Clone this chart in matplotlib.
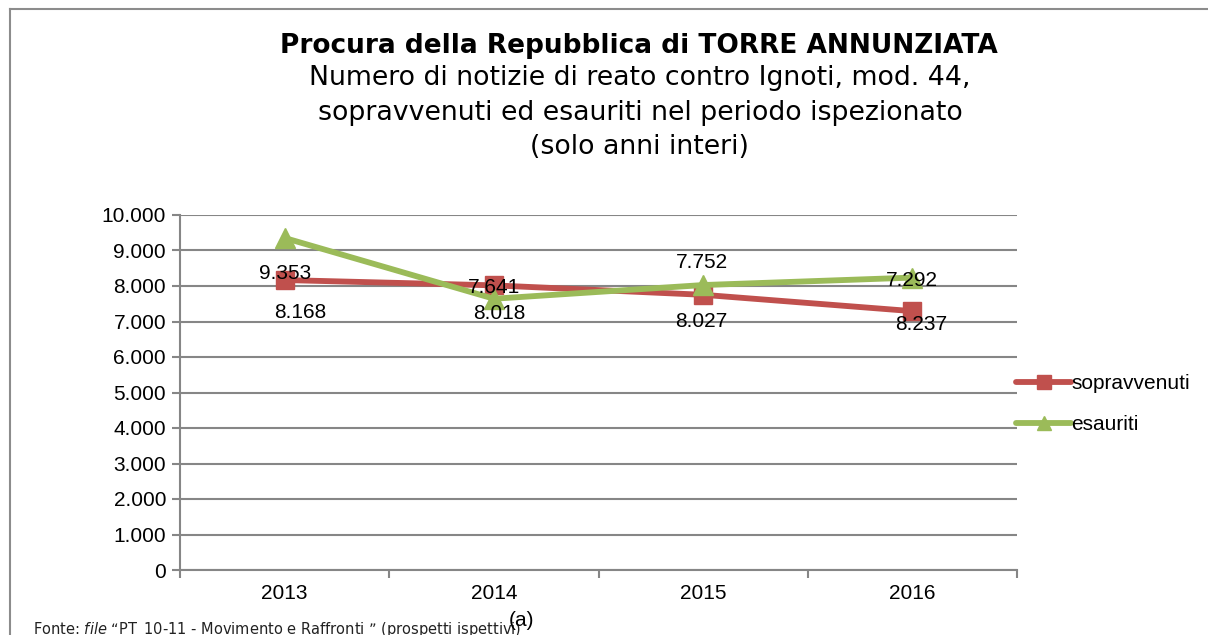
import matplotlib
matplotlib.use("Agg")
import matplotlib.pyplot as plt
from matplotlib.lines import Line2D

# ---- data ----
years = ["2013", "2014", "2015", "2016"]
sopravvenuti = [8168, 8018, 7752, 7292]
esauriti = [9353, 7641, 8027, 8237]
series_names = ["sopravvenuti", "esauriti"]
y_ticks = [0, 1000, 2000, 3000, 4000, 5000, 6000, 7000, 8000, 9000, 10000]

title = "Procura della Repubblica di TORRE ANNUNZIATA"
subtitle = "Numero di notizie di reato contro Ignoti, mod. 44,\nsopravvenuti ed esauriti nel periodo ispezionato\n(solo anni interi)"
source_note = "(prospetti ispettivi)"

# ---- style ----
W, H, DPI = 1208, 635, 100
RED = "#C0504D"
GREEN = "#9BBB59"
GRID = "#868686"
ARIAL = "Liberation Sans"
# label offsets in pixels (dx, dy downward)
red_off = [(16, 32), (5, 28), (-1, -32), (0, -31)]
green_off = [(0, 36), (0, -11), (-2, 36), (9, 47)]

def fmt(v):
    return f"{v:,}".replace(",", ".")

fig = plt.figure(figsize=(W / DPI, H / DPI), dpi=DPI)
L, R, T, B = 180, 1017, 215, 570
ax = fig.add_axes([L / W, 1 - B / H, (R - L) / W, (B - T) / H])

x = list(range(len(years)))
ax.plot(x, sopravvenuti, color=RED, lw=4.2, marker="s", ms=13,
        mec=RED, mfc=RED, label=series_names[0], zorder=3, solid_capstyle="round")
ax.plot(x, esauriti, color=GREEN, lw=4.2, marker="^", ms=14,
        mec=GREEN, mfc=GREEN, label=series_names[1], zorder=4, solid_capstyle="round")

px2pt = 72 / DPI
for xi, v, (dx, dy) in zip(x, sopravvenuti, red_off):
    ax.annotate(fmt(v), (xi, v), xytext=(dx * px2pt, -dy * px2pt), textcoords="offset points",
                ha="center", va="center", fontsize=15, family=ARIAL, color="black", zorder=6)
for xi, v, (dx, dy) in zip(x, esauriti, green_off):
    ax.annotate(fmt(v), (xi, v), xytext=(dx * px2pt, -dy * px2pt), textcoords="offset points",
                ha="center", va="center", fontsize=15, family=ARIAL, color="black", zorder=6)

ax.set_xlim(-0.5, len(years) - 0.5)
ax.set_ylim(0, 10000)
ax.set_yticks(y_ticks)
ax.set_yticklabels([fmt(v) for v in y_ticks], fontsize=15, family=ARIAL)
ax.set_xticks([i - 0.5 for i in range(len(years) + 1)])
ax.set_xticklabels([])
ax.set_xticks(x, minor=True)
ax.set_xticklabels(years, minor=True, fontsize=15, family=ARIAL)
ax.tick_params(axis="x", which="minor", length=0, pad=10)
ax.tick_params(axis="x", which="major", length=6, width=1.5, color=GRID, direction="out")
ax.tick_params(axis="y", length=6, width=1.5, color=GRID, direction="out", pad=4)
ax.grid(axis="y", color=GRID, lw=1.5)
ax.set_axisbelow(True)
for s in ["top", "right"]:
    ax.spines[s].set_visible(False)
for s in ["left", "bottom"]:
    ax.spines[s].set_color(GRID)
    ax.spines[s].set_linewidth(1.5)

leg = fig.legend(loc="center left", bbox_to_anchor=(1006 / W, 1 - 404 / H), frameon=False,
                 prop={"family": ARIAL, "size": 15}, handlelength=2.6, handletextpad=0.05,
                 labelspacing=1.05, borderpad=0, markerscale=0.75)

fig.text(639 / W, 1 - 46 / H, title, ha="center", va="center", fontsize=19,
         fontweight="bold", family="DejaVu Sans")
fig.text(640 / W, 1 - 112.5 / H, subtitle, ha="center", va="center", fontsize=19.3,
         family="DejaVu Sans", linespacing=1.42)

fig.text(33 / W, 1 - 630 / H,
         "Fonte: $\\it{file}$ \u201cPT_10-11 - Movimento e Raffronti \u201d " + source_note,
         ha="left", va="center", fontsize=10.5, family="DejaVu Sans", color="#222222")
fig.text(521 / W, 1 - 620 / H, "(a)", ha="center", va="center", fontsize=15, family=ARIAL)

fig.add_artist(Line2D([9.5 / W, 1.0], [1 - 8.5 / H, 1 - 8.5 / H], color="#8c8c8c", lw=1.5,
                      transform=fig.transFigure))
fig.add_artist(Line2D([9.5 / W, 9.5 / W], [0, 1 - 8.5 / H], color="#8c8c8c", lw=1.5,
                      transform=fig.transFigure))

fig.savefig("out.png", dpi=DPI)
